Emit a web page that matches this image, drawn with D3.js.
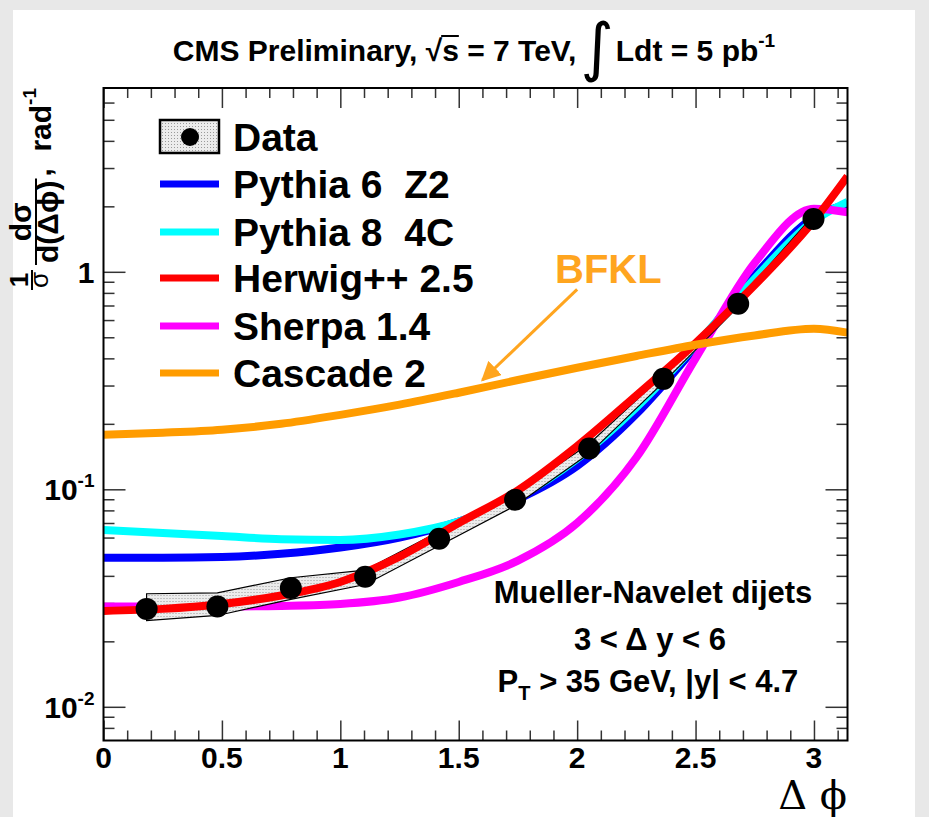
<!DOCTYPE html>
<html>
<head>
<meta charset="utf-8">
<script src="https://cdn.jsdelivr.net/npm/d3@7"></script>
<style>
body { margin: 0; background: #e8e8e8; }
text { font-family: "Liberation Sans", Arial, sans-serif; font-weight: bold; white-space: pre; }
</style>
</head>
<body>
<svg id="chart" width="929" height="817"></svg>
<script>
// measured points (delta phi bins) and their error band
var binX   = [0.182, 0.481, 0.791, 1.105, 1.417, 1.738, 2.051, 2.364, 2.68, 2.998];
var dataY  = [0.0282, 0.0289, 0.0352, 0.0396, 0.0592, 0.0895, 0.154, 0.322, 0.713, 1.75];
var dataHi = [0.0331, 0.0334, 0.0392, 0.0425, 0.0640, 0.0950, 0.162, 0.335, 0.74, 1.82];
var dataLo = [0.0249, 0.0263, 0.0312, 0.0365, 0.0550, 0.0840, 0.146, 0.310, 0.69, 1.68];

// model curves, sampled on a common delta phi grid
var modelX  = [0, 0.25, 0.5, 0.75, 1, 1.25, 1.5, 1.75, 2, 2.25, 2.5, 2.75, 3, Math.PI];
var pythia6 = [0.0484, 0.0484, 0.0488, 0.0505, 0.054, 0.060, 0.071, 0.090, 0.128, 0.222, 0.45, 0.96, 1.78, 2.05];
var pythia8 = [0.065, 0.063, 0.061, 0.059, 0.0585, 0.062, 0.071, 0.092, 0.138, 0.238, 0.46, 0.93, 1.72, 2.1];
var herwig  = [0.0276, 0.0282, 0.0297, 0.0325, 0.0375, 0.049, 0.070, 0.099, 0.158, 0.27, 0.47, 0.87, 1.72, 2.75];
var sherpa  = [0.0289, 0.0289, 0.0289, 0.0291, 0.0297, 0.0318, 0.0375, 0.047, 0.070, 0.140, 0.40, 1.10, 1.95, 1.88];
var cascade = [0.178, 0.182, 0.188, 0.20, 0.22, 0.245, 0.278, 0.318, 0.362, 0.41, 0.462, 0.51, 0.547, 0.525];

var modelNames  = ['Pythia 6  Z2', 'Pythia 8  4C', 'Herwig++ 2.5', 'Sherpa 1.4', 'Cascade 2'];
var modelColors = ['#0000ff', '#00ffff', '#ff0000', '#ff00ff', '#ff9c00'];
var modelVals   = [pythia6, pythia8, herwig, sherpa, cascade];
var drawOrder   = [0, 1, 3, 'band', 2, 4];

var xTicks = [0, 0.5, 1, 1.5, 2, 2.5, 3];
var xTickLabels = ['0', '0.5', '1', '1.5', '2', '2.5', '3'];
var yTicks = [0.01, 0.1, 1];
var yTickLabels = [['10', '-2'], ['10', '-1'], ['1', '']];

// BFKL arrow in data coords
var arrowFrom = [2.0, 0.83];
var arrowTo   = [1.6, 0.318];

/*-------------------------------------------------------*/
var svg = d3.select('#chart');

svg.append('rect').attr('x', 13).attr('y', 10).attr('width', 902).attr('height', 807).attr('fill', '#fff');

var margin = { top: 88, right: 81.5, bottom: 76.5, left: 103.5 },
    width  = 929 - margin.left - margin.right,
    height = 817 - margin.top - margin.bottom;

var x = d3.scaleLinear().domain([0, Math.PI]).range([0, width]);
var y = d3.scaleLog().domain([0.007, 7]).range([height, 0]);

var defs = svg.append('defs');
defs.append('clipPath').attr('id', 'clip')
    .append('rect').attr('width', width).attr('height', height);
var pat = defs.append('pattern').attr('id', 'dots')
    .attr('width', 3).attr('height', 3).attr('patternUnits', 'userSpaceOnUse');
pat.append('rect').attr('width', 3).attr('height', 3).attr('fill', '#ececec');
pat.append('rect').attr('width', 1).attr('height', 1).attr('fill', '#9a9a9a');
defs.append('marker').attr('id', 'head')
    .attr('viewBox', '0 0 10 10').attr('refX', 9).attr('refY', 5)
    .attr('markerWidth', 6.5).attr('markerHeight', 6.5).attr('orient', 'auto')
  .append('path').attr('d', 'M0,0 L10,5 L0,10 z').attr('fill', '#ffa51f');

var g = svg.append('g').attr('transform', 'translate(' + margin.left + ',' + margin.top + ')');

// ticks (all pointing inward, on all four sides)
var xMinor = d3.range(0, 32).map(function(i) { return i / 10; })
    .filter(function(v) { return Math.abs(v * 2 - Math.round(v * 2)) > 1e-6; });
var yMinor = [];
[0.001, 0.01, 0.1, 1].forEach(function(d) {
    for (var k = 2; k <= 9; k++) {
        var v = d * k;
        if (v > 0.0071 && v < 6.9) yMinor.push(v);
    }
});

function noDomain(sel) { sel.select('.domain').remove(); sel.selectAll('line').attr('stroke', '#333').attr('stroke-width', 1.5); }

g.append('g').attr('transform', 'translate(0,' + height + ')')
 .call(d3.axisBottom(x).tickValues(xTicks).tickSize(-20).tickFormat('')).call(noDomain);
g.append('g').attr('transform', 'translate(0,' + height + ')')
 .call(d3.axisBottom(x).tickValues(xMinor).tickSize(-10).tickFormat('')).call(noDomain);
g.append('g')
 .call(d3.axisTop(x).tickValues(xTicks).tickSize(-20).tickFormat('')).call(noDomain);
g.append('g')
 .call(d3.axisTop(x).tickValues(xMinor).tickSize(-10).tickFormat('')).call(noDomain);
g.append('g')
 .call(d3.axisLeft(y).tickValues(yTicks).tickSize(-22).tickFormat('')).call(noDomain);
g.append('g')
 .call(d3.axisLeft(y).tickValues(yMinor).tickSize(-11).tickFormat('')).call(noDomain);
g.append('g').attr('transform', 'translate(' + width + ',0)')
 .call(d3.axisRight(y).tickValues(yTicks).tickSize(-22).tickFormat('')).call(noDomain);
g.append('g').attr('transform', 'translate(' + width + ',0)')
 .call(d3.axisRight(y).tickValues(yMinor).tickSize(-11).tickFormat('')).call(noDomain);

// tick labels
g.selectAll('.xlab').data(xTicks).enter().append('text')
  .attr('x', function(d) { return x(d); })
  .attr('y', height + 27)
  .attr('text-anchor', 'middle')
  .attr('font-size', 30)
  .text(function(d, i) { return xTickLabels[i]; });

yTicks.forEach(function(v, i) {
    var t = g.append('text').attr('x', -9).attr('y', y(v) + 11)
        .attr('text-anchor', 'end').attr('font-size', 30);
    t.append('tspan').text(yTickLabels[i][0]);
    if (yTickLabels[i][1]) {
        t.append('tspan').attr('font-size', 19).attr('dy', -13).text(yTickLabels[i][1]);
    }
});

// curves + band
var plot = g.append('g').attr('clip-path', 'url(#clip)');
var line = d3.line()
    .x(function(d, i) { return x(modelX[i]); })
    .y(function(d) { return y(d); })
    .curve(d3.curveMonotoneX);
var band = d3.area()
    .x(function(d, i) { return x(binX[i]); })
    .y0(function(d, i) { return y(dataLo[i]); })
    .y1(function(d, i) { return y(dataHi[i]); });

drawOrder.forEach(function(k) {
    if (k === 'band') {
        plot.append('path').datum(dataY).attr('d', band)
            .attr('fill', 'url(#dots)').attr('stroke', '#000').attr('stroke-width', 1.2);
    } else {
        plot.append('path').datum(modelVals[k]).attr('d', line)
            .attr('fill', 'none').attr('stroke', modelColors[k]).attr('stroke-width', 8);
    }
});

plot.selectAll('.pt').data(dataY).enter().append('circle')
    .attr('cx', function(d, i) { return x(binX[i]); })
    .attr('cy', function(d) { return y(d); })
    .attr('r', 11).attr('fill', '#000');

// frame
g.append('rect').attr('width', width).attr('height', height)
 .attr('fill', 'none').attr('stroke', '#000').attr('stroke-width', 2);

// legend
var leg = svg.append('g');
var legY = [137, 184, 232, 278, 326, 373];
leg.append('rect').attr('x', 160).attr('y', 120).attr('width', 59).attr('height', 33)
   .attr('fill', 'url(#dots)').attr('stroke', '#000').attr('stroke-width', 2.5);
leg.append('circle').attr('cx', 190).attr('cy', 137).attr('r', 9).attr('fill', '#000');
leg.append('text').attr('x', 233).attr('y', legY[0] + 14).attr('font-size', 39).text('Data');
modelNames.forEach(function(n, i) {
    leg.append('line').attr('x1', 160).attr('x2', 219).attr('y1', legY[i + 1]).attr('y2', legY[i + 1])
       .attr('stroke', modelColors[i]).attr('stroke-width', 7);
    leg.append('text').attr('x', 233).attr('y', legY[i + 1] + 14).attr('font-size', 39).text(n);
});

// BFKL annotation
svg.append('text').attr('x', 555).attr('y', 283).attr('font-size', 40)
   .attr('fill', '#ffa51f').text('BFKL');
g.append('line')
   .attr('x1', x(arrowFrom[0])).attr('y1', y(arrowFrom[1]))
   .attr('x2', x(arrowTo[0])).attr('y2', y(arrowTo[1]))
   .attr('stroke', '#ffa51f').attr('stroke-width', 3)
   .attr('marker-end', 'url(#head)');

// cuts text
var cuts = svg.append('g').attr('text-anchor', 'middle').attr('font-size', 31);
cuts.append('text').attr('x', 653).attr('y', 603).text('Mueller-Navelet dijets');
cuts.append('text').attr('x', 650).attr('y', 650).text('3 < \u0394 y < 6');
var pt = cuts.append('text').attr('x', 648).attr('y', 692);
pt.append('tspan').text('P');
pt.append('tspan').attr('font-size', 20).attr('dy', 8).text('T');
pt.append('tspan').attr('dy', -8).text(' > 35 GeV, |y| < 4.7');

// x title
svg.append('text').attr('x', 847).attr('y', 809).attr('text-anchor', 'end')
   .attr('font-size', 40).style('font-family', '"DejaVu Serif", serif').style('font-weight', 'normal')
   .text('\u0394 \u03d5');

// sequential text helper
function seq(parent, parts) {
    var cx = 0;
    parts.forEach(function(p) {
        var t = parent.append('text').attr('x', cx).attr('y', p.dy || 0).attr('font-size', p.fs).text(p.t);
        if (p.family) t.style('font-family', p.family);
        if (p.weight) t.style('font-weight', p.weight);
        p.x0 = cx;
        p.w = t.node().getComputedTextLength();
        cx += p.w + (p.gap || 0);
    });
    return cx;
}

// title
var tg = svg.append('g');
var tparts = [
    { t: 'CMS Preliminary, ', fs: 30 },
    { t: '\u221a', fs: 30 },
    { t: 's', fs: 30 },
    { t: ' = 7 TeV,', fs: 30, gap: 4 },
    { t: '\u222b', fs: 64, family: '"DejaVu Sans", sans-serif', weight: 'normal', dy: 8, gap: 2 },
    { t: 'Ldt = 5 pb', fs: 30 },
    { t: '-1', fs: 19, dy: -14 }
];
var tw = seq(tg, tparts);
tg.append('line').attr('x1', tparts[1].x0 + tparts[1].w - 1).attr('x2', tparts[2].x0 + tparts[2].w)
  .attr('y1', -25).attr('y2', -25).attr('stroke', '#000').attr('stroke-width', 2);
tg.attr('transform', 'translate(' + (474 - tw / 2) + ',61)');

// y title, rotated, aligned to the top of the axis
var yt = svg.append('g');
var f1 = yt.append('g');
f1.append('text').attr('x', 0).attr('y', -23).attr('font-size', 26).attr('text-anchor', 'middle').text('1');
f1.append('text').attr('x', 0).attr('y', -3).attr('font-size', 26).attr('text-anchor', 'middle')
  .style('font-weight', 'normal').text('\u03c3');
f1.append('line').attr('x1', -10).attr('x2', 10).attr('y1', -19).attr('y2', -19).attr('stroke', '#000').attr('stroke-width', 2);
f1.attr('transform', 'translate(11,0)');
var f2 = yt.append('g');
var num = f2.append('text').attr('x', 0).attr('y', -20).attr('font-size', 30).attr('text-anchor', 'middle').text('d\u03c3');
var den = f2.append('text').attr('x', 0).attr('y', 7).attr('font-size', 30).attr('text-anchor', 'middle').text('d(\u0394\u03d5)');
var fw = Math.max(num.node().getComputedTextLength(), den.node().getComputedTextLength()) + 4;
f2.append('line').attr('x1', -fw / 2).attr('x2', fw / 2).attr('y1', -15).attr('y2', -15)
  .attr('stroke', '#000').attr('stroke-width', 2);
f2.attr('transform', 'translate(' + (26 + fw / 2) + ',0)');
var rest = yt.append('g').attr('transform', 'translate(' + (28 + fw) + ',0)');
var rw = seq(rest, [
    { t: ',  rad', fs: 30 },
    { t: '-1', fs: 19, dy: -15 }
]);
var total = 28 + fw + rw;
yt.attr('transform', 'translate(51,' + (margin.top + total) + ') rotate(-90)');
</script>
</body>
</html>
